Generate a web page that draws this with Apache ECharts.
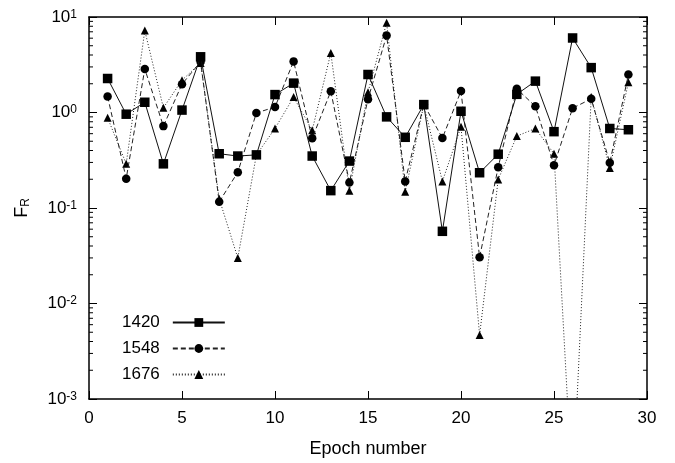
<!DOCTYPE html>
<html>
<head>
<meta charset="utf-8">
<script src="https://cdn.jsdelivr.net/npm/echarts@6/dist/echarts.min.js"></script>
<style>html,body{margin:0;padding:0;background:#fff}#c{width:675px;height:463px}</style>
</head>
<body>
<div id="c"></div>
<script>
const epochs = [1,2,3,4,5,6,7,8,9,10,11,12,13,14,15,16,17,18,19,20,21,22,23,24,25,26,27,28,29];
const s1420 = [2.27,0.96,1.28,0.29,1.06,3.83,0.37,0.35,0.36,1.54,2.03,0.35,0.152,0.31,2.5,0.90,0.55,1.21,0.057,1.03,0.234,0.366,1.55,2.13,0.63,6.03,2.95,0.68,0.66];
const s1548 = [1.47,0.203,2.86,0.72,1.98,3.4,0.116,0.237,0.99,1.14,3.43,0.536,1.67,0.185,1.38,6.4,0.19,1.22,0.54,1.68,0.0305,0.267,1.77,1.16,0.28,1.11,1.39,0.298,2.5];
const s1676 = [0.88,0.29,7.2,1.12,2.18,3.3,0.125,0.030,0.36,0.68,1.45,0.65,4.2,0.152,1.63,8.7,0.148,1.2,0.19,0.71,0.00467,0.199,0.566,0.68,0.37,0.0001,1.45,0.262,2.07];
const seriesNames = ['1420','1548','1676'];
const xTicks = [0,5,10,15,20,25,30];
const yDecades = [0.001,0.01,0.1,1,10];

const minorTicks = [];
for (let i = 0; i < yDecades.length - 1; i++) {
  for (let m = 2; m <= 9; m++) minorTicks.push([0, yDecades[i] * m]);
}
const pair = arr => epochs.map((e, i) => [e, arr[i]]);

const FONT = 'Liberation Sans';
const chart = echarts.init(document.getElementById('c'), null, {renderer: 'canvas'});
chart.setOption({
  animation: false,
  backgroundColor: '#fff',
  textStyle: {fontFamily: FONT, color: '#000'},
  grid: {left: 89, right: 28, top: 17, bottom: 59, containLabel: false},
  legend: {
    orient: 'vertical',
    left: 117, top: 309,
    align: 'right',
    itemWidth: 52, itemHeight: 11, itemGap: 9,
    textStyle: {fontFamily: FONT, fontSize: 17, color: '#000', padding: [0, 8, 0, 0]},
    data: seriesNames
  },
  xAxis: [{
    type: 'value', min: 0, max: 30, interval: 5,
    name: 'Epoch number', nameLocation: 'middle', nameGap: 41,
    nameTextStyle: {fontFamily: FONT, fontSize: 18, color: '#000'},
    axisLine: {show: true, onZero: false, lineStyle: {color: '#000', width: 1.5}},
    axisTick: {show: true, inside: true, length: 8, lineStyle: {color: '#000', width: 1}},
    axisLabel: {fontFamily: FONT, fontSize: 17, color: '#000', margin: 11},
    splitLine: {show: false}
  }, {
    type: 'value', min: 0, max: 30, interval: 5, position: 'top',
    axisLine: {show: true, onZero: false, lineStyle: {color: '#000', width: 1.5}},
    axisTick: {show: true, inside: true, length: 8, lineStyle: {color: '#000', width: 1}},
    axisLabel: {show: false}, splitLine: {show: false}
  }],
  yAxis: [{
    type: 'log', logBase: 10, min: 0.001, max: 10, splitNumber: 4,
    name: '{f|F}{r|R}', nameLocation: 'middle', nameGap: 46, nameRotate: 90,
    nameTextStyle: {
      rich: {
        f: {fontFamily: FONT, fontSize: 18, lineHeight: 18, color: '#000', verticalAlign: 'top', padding: [0, 0, 5, 0]},
        r: {fontFamily: FONT, fontSize: 12, lineHeight: 12, color: '#000', verticalAlign: 'bottom'}
      }
    },
    axisLine: {show: true, onZero: false, lineStyle: {color: '#000', width: 1.5}},
    axisTick: {show: true, inside: true, length: 8, lineStyle: {color: '#000', width: 1}},
    axisLabel: {
      margin: 12,
      formatter: v => '{b|10}{s|' + Math.round(Math.log10(v)) + '}',
      rich: {
        b: {fontFamily: FONT, fontSize: 17, lineHeight: 17, color: '#000', verticalAlign: 'bottom', padding: [4, 0, 0, 0]},
        s: {fontFamily: FONT, fontSize: 12, lineHeight: 12, color: '#000', verticalAlign: 'top'}
      }
    },
    splitLine: {show: false}
  }, {
    type: 'log', logBase: 10, min: 0.001, max: 10, splitNumber: 4, position: 'right',
    axisLine: {show: true, onZero: false, lineStyle: {color: '#000', width: 1.5}},
    axisTick: {show: true, inside: true, length: 8, lineStyle: {color: '#000', width: 1}},
    axisLabel: {show: false}, splitLine: {show: false}
  }],
  series: [{
    name: '1420', type: 'line', data: pair(s1420), z: 5,
    symbol: 'rect', symbolSize: 9.5,
    lineStyle: {color: '#111', width: 1, type: 'solid'},
    itemStyle: {color: '#000'}, clip: true
  }, {
    name: '1548', type: 'line', data: pair(s1548), z: 4,
    symbol: 'circle', symbolSize: 8.5,
    lineStyle: {color: '#222', width: 1, type: [5, 3]},
    itemStyle: {color: '#000'}, clip: true
  }, {
    name: '1676', type: 'line', data: pair(s1676), z: 3,
    symbol: 'triangle', symbolSize: 8,
    lineStyle: {color: '#222', width: 1, type: [1, 2]},
    itemStyle: {color: '#000'}, clip: true
  }, {
    type: 'custom', silent: true, z: 10,
    data: minorTicks, encode: {x: 0, y: 1},
    renderItem: (params, api) => {
      const v = api.value(1);
      const pl = api.coord([0, v]);
      const pr = api.coord([30, v]);
      return {type: 'group', children: [
        {type: 'line', shape: {x1: pl[0], y1: pl[1], x2: pl[0] + 4, y2: pl[1]}, style: {stroke: '#000', lineWidth: 1}},
        {type: 'line', shape: {x1: pr[0], y1: pr[1], x2: pr[0] - 4, y2: pr[1]}, style: {stroke: '#000', lineWidth: 1}}
      ]};
    }
  }]
});
</script>
</body>
</html>
